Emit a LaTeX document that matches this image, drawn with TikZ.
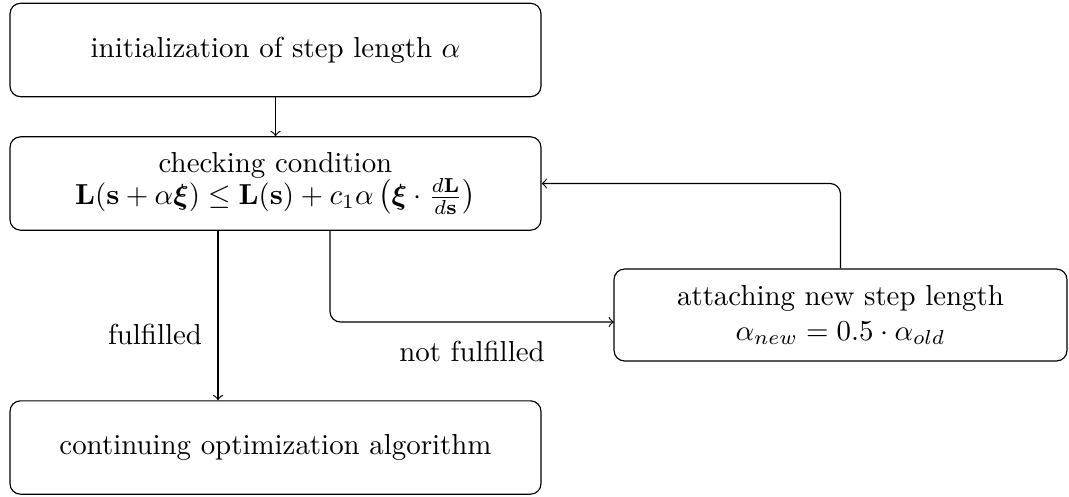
\documentclass[tikz,border=0pt]{standalone}
\usepackage{amsmath,amssymb}
\begin{document}
\begin{tikzpicture}[x=0.346pt,y=-0.346pt,
  box/.style={draw,rounded corners=3.6pt,align=center,inner sep=0pt},
  wide/.style={box,minimum width=183.7pt,minimum height=32.3pt},
  conn/.style={->,rounded corners=3.6pt}]
\useasboundingbox (0,0) rectangle (1069,496);
\node[wide] (init) at (275.5,50) {initialization of step length $\alpha$};
\node[wide] (check) at (275.5,183.5) {checking condition\\[-1pt]
  $\mathbf{L}(\mathbf{s}+\alpha\boldsymbol{\xi}) \leq \mathbf{L}(\mathbf{s}) + c_1\alpha\left(\boldsymbol{\xi}\cdot\frac{d\mathbf{L}}{d\mathbf{s}}\right)$};
\node[box,minimum width=156.7pt,minimum height=31.8pt] (attach) at (840.5,315) {attaching new step length\\
  $\alpha_{new} = 0.5\cdot\alpha_{old}$};
\node[wide] (cont) at (275.5,447.5) {continuing optimization algorithm};
\coordinate (a1) at (218,230);
\coordinate (a2) at (330,230);
\coordinate (a3) at (614,322);
\draw[->] (init) -- (check);
\draw[->] (a1) -- (a1 |- cont.north) node[midway,left=2pt,yshift=-6.8pt] {fulfilled};
\draw[conn] (a2) |- (a3) node[pos=0.75,below=3pt] {not fulfilled};
\draw[conn] (attach.north) |- (check.east);
\end{tikzpicture}
\end{document}
